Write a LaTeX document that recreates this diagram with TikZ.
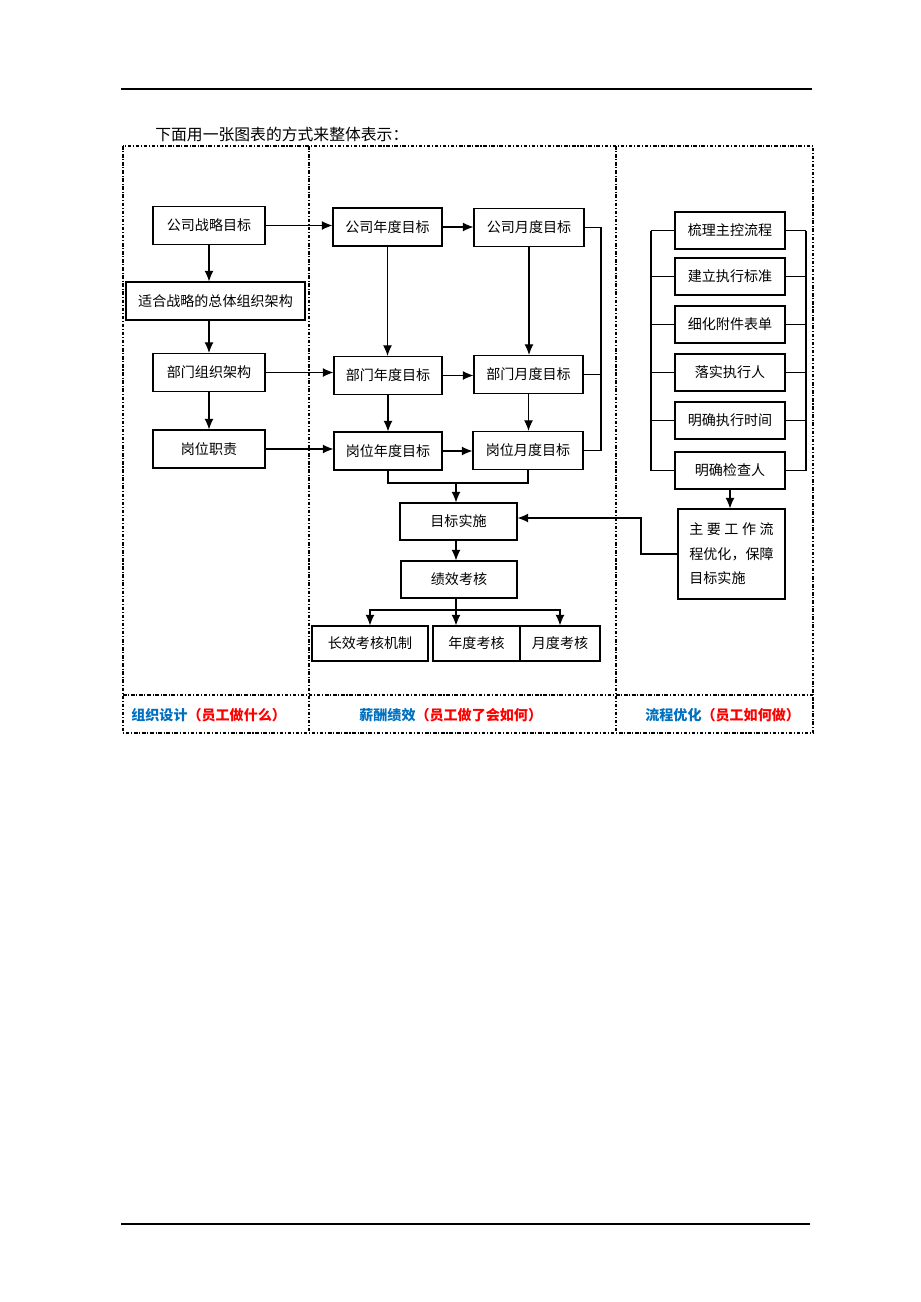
\documentclass[tikz,border=0pt]{standalone}
\usepackage{fontspec}
\setmainfont{Noto Sans CJK SC}
\usepackage{tikz}
\usetikzlibrary{calc}
\usetikzlibrary{positioning}
\usetikzlibrary{arrows.meta}
\definecolor{lblue}{RGB}{0,112,192}
\definecolor{lred}{RGB}{255,0,0}

\begin{document}
\begin{tikzpicture}[x=0.02cm, y=-0.02cm, >={Latex[length=6pt,width=5pt]},
box/.style={draw, line width=0.6pt, inner sep=0pt, minimum height=0.76cm, minimum width=#1, font=\fontsize{8pt}{10pt}\selectfont},
conn/.style={line width=0.6pt},
sep/.style={line width=0.8pt, dash pattern=on 2pt off 1pt on 0.6pt off 1pt},
lbl/.style={anchor=west, inner sep=0pt, font=\fontsize{8pt}{10pt}\selectfont\bfseries}]

\useasboundingbox (0,0) rectangle (920,1302);

% page rules and heading
\draw[line width=0.6pt] (121,89) -- (812,89);
\draw[line width=0.6pt] (121,1224) -- (810,1224);
\node[anchor=west, inner sep=0pt, font=\fontsize{9pt}{11pt}\selectfont] (head) at (155,134) {下面用一张图表的方式来整体表示：};

% frame
\draw[sep] (123,146) rectangle (813,733);
\draw[sep] (309,146) -- (309,733);
\draw[sep] (616,146) -- (616,733);
\draw[sep] (123,695) -- (813,695);

% left column
\node[box=2.24cm] (zlmb) at (209,225.5) {公司战略目标};
\node[box=3.58cm] (zzjg) at (215.5,301) {适合战略的总体组织架构};
\node[box=2.24cm] (bmzz) at (209,372.5) {部门组织架构};
\node[box=2.24cm] (gwzz) at (209,449) {岗位职责};

% middle column
\node[box=2.18cm] (gsnd) at (387.5,227) {公司年度目标};
\node[box=2.2cm] (gsyd) at (529,227.5) {公司月度目标};
\node[box=2.16cm] (bmnd) at (388,375.5) {部门年度目标};
\node[box=2.18cm] (bmyd) at (528.5,374.5) {部门月度目标};
\node[box=2.16cm] (gwnd) at (388,451) {岗位年度目标};
\node[box=2.2cm] (gwyd) at (528,450.5) {岗位月度目标};
\node[box=2.34cm, minimum height=0.74cm] (mbss) at (458.5,521.5) {目标实施};
\node[box=2.32cm, minimum height=0.74cm] (jxkh) at (459,579.5) {绩效考核};
\node[box=2.32cm, minimum height=0.7cm] (cxkh) at (370,643.5) {长效考核机制};
\node[box=1.74cm, minimum height=0.7cm] (ndkh) at (476.5,643.5) {年度考核};
\node[box=1.6cm, minimum height=0.7cm] (ydkh) at (560,643.5) {月度考核};

% right column
\node[box=2.2cm, minimum height=0.74cm] (s1) at (730,230.5) {梳理主控流程};
\node[box=2.2cm, minimum height=0.74cm] (s2) at (730,276.5) {建立执行标准};
\node[box=2.2cm, minimum height=0.74cm] (s3) at (730,324.5) {细化附件表单};
\node[box=2.2cm, minimum height=0.74cm] (s4) at (730,372.5) {落实执行人};
\node[box=2.2cm, minimum height=0.74cm] (s5) at (730,420.5) {明确执行时间};
\node[box=2.2cm, minimum height=0.74cm] (s6) at (730,470.5) {明确检查人};
\node[box=2.14cm, minimum height=1.8cm, align=left, font=\fontsize{8pt}{14pt}\selectfont] (yh) at (731.5,554)
  {\makebox[6em][s]{主\hfill 要\hfill 工\hfill 作\hfill 流}\\程优化，保障\\目标实施};

% left arrows
\draw[conn,->] (zlmb.south) -- (zlmb.south |- zzjg.north);
\draw[conn,->] (zzjg.south -| bmzz) -- (bmzz.north);
\draw[conn,->] (bmzz.south) -- (gwzz.north);
\draw[conn,->] (zlmb.east) -- (zlmb.east -| gsnd.west);
\draw[conn,->] (bmzz.east) -- (bmzz.east -| bmnd.west);
\draw[conn,->] (gwzz.east) -- (gwzz.east -| gwnd.west);

% goals
\draw[conn,->] (gsnd.east) -- (gsnd.east -| gsyd.west);
\draw[conn,->] (bmnd.east) -- (bmnd.east -| bmyd.west);
\draw[conn,->] (gwnd.east) -- (gwnd.east -| gwyd.west);
\draw[conn,->] (gsnd.south) -- (gsnd.south |- bmnd.north);
\draw[conn,->] (gsyd.south) -- (gsyd.south |- bmyd.north);
\draw[conn,->] (bmnd.south) -- (bmnd.south |- gwnd.north);
\draw[conn,->] (bmyd.south) -- (bmyd.south |- gwyd.north);

\coordinate (br) at (601,300);
\draw[conn] (gsyd.east) -| (br) |- (gwyd.east);
\draw[conn] (bmyd.east) -- (bmyd.east -| br);

\coordinate (mg) at (456,483);
\draw[conn] (gwnd.south) |- (mg) -| (gwyd.south);
\draw[conn,->] (mg) -- (mg |- mbss.north);
\draw[conn,->] (mbss.south -| mg) -- (jxkh.north -| mg);

\coordinate (sp) at (456,610);
\draw[conn] (jxkh.south -| sp) -- (sp);
\draw[conn,->] (sp) -| (cxkh.north);
\draw[conn,->] (sp) -| (ydkh.north);
\draw[conn,->] (sp) -- (sp |- ndkh.north);

% process brackets
\coordinate (lb) at (651,0);
\coordinate (rb) at (806,0);
\foreach \s in {s1,s2,s3,s4,s5,s6}{
  \draw[conn] (\s.west) -- (\s.west -| lb);
  \draw[conn] (\s.east) -- (\s.east -| rb);
}
\draw[conn] (s1.west -| lb) -- (s6.west -| lb);
\draw[conn] (s1.east -| rb) -- (s6.east -| rb);
\draw[conn,->] (s6.south) -- (s6.south |- yh.north);

\coordinate (jt) at (641,518);
\draw[conn,->] (yh.west) -| (jt) -- (jt -| mbss.east);

% column labels
\node[lbl] (lz) at (131,715) {\color{lblue}组织设计\color{lred}（员工做什么）};
\node[lbl] (lx) at (359,715) {\color{lblue}薪酬绩效\color{lred}（员工做了会如何）};
\node[lbl] (ll) at (645,715) {\color{lblue}流程优化\color{lred}（员工如何做）};

\end{tikzpicture}
\end{document}
